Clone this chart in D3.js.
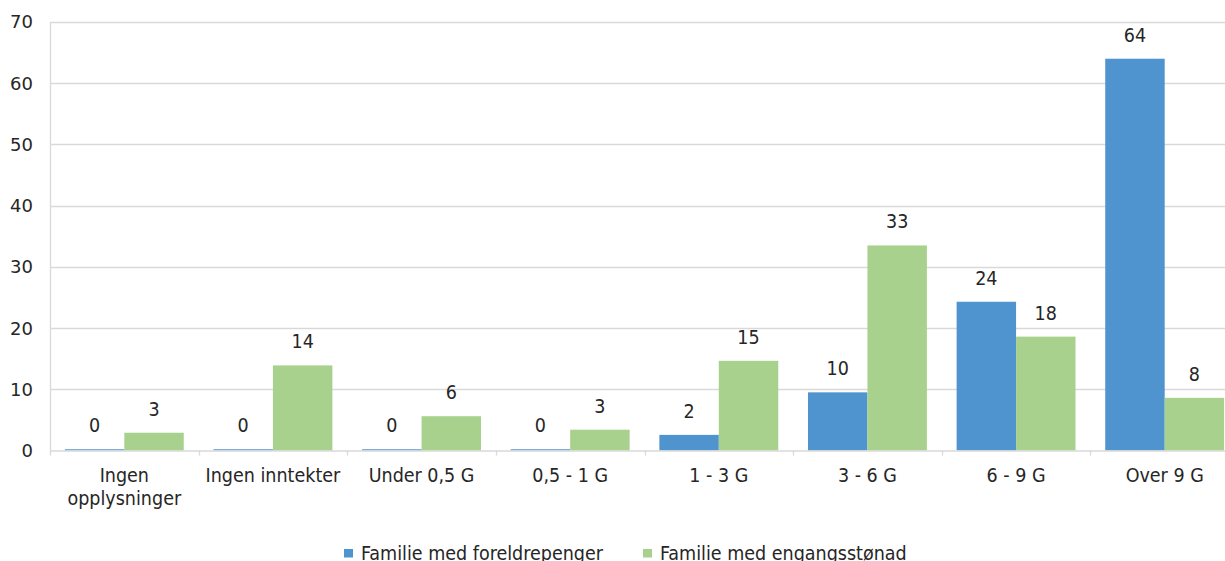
<!DOCTYPE html>
<html>
<head>
<meta charset="utf-8">
<script src="https://cdn.jsdelivr.net/npm/d3@7"></script>
<style>
  body { margin: 0; background: #fff; }
  text { font-family: "DejaVu Sans Condensed", "DejaVu Sans", sans-serif; fill: #262626; }
</style>
</head>
<body>
<div id="chart"></div>
<script>
// categories and series
var categories = ["Ingen opplysninger", "Ingen inntekter", "Under 0,5 G", "0,5 - 1 G",
  "1 - 3 G", "3 - 6 G", "6 - 9 G", "Over 9 G"];
var foreldrepenger = [0.2, 0.2, 0.2, 0.2, 2.55, 9.5, 24.3, 64.0];
var engangsstonad = [2.9, 13.9, 5.6, 3.4, 14.65, 33.5, 18.6, 8.6];
// data labels as printed on the chart
var foreldrepengerLabels = ["0", "0", "0", "0", "2", "10", "24", "64"];
var engangsstonadLabels = ["3", "14", "6", "3", "15", "33", "18", "8"];
var seriesNames = ["Familie med foreldrepenger", "Familie med engangsstønad"];
var yTicks = [0, 10, 20, 30, 40, 50, 60, 70];

var colors = ["#4f93cf", "#a9d18e"];

var W = 1225, H = 561;
var margin = { top: 22, left: 50 },
  plotBottom = 450.5,
  plotRight = 1239;

var svg = d3.select("#chart")
  .append("svg")
  .attr("width", W)
  .attr("height", H);

// scales
var x0 = d3.scaleBand()
  .domain(categories)
  .range([margin.left, plotRight])
  .paddingInner(0.2)
  .paddingOuter(0.1);
var x1 = d3.scaleBand()
  .domain([0, 1])
  .range([0, x0.bandwidth()]);
var y = d3.scaleLinear()
  .domain([0, 70])
  .range([plotBottom, margin.top]);

// gridlines
svg.append("g")
  .selectAll("line")
  .data(yTicks.slice(1))
  .enter()
  .append("line")
  .attr("x1", margin.left)
  .attr("x2", W)
  .attr("y1", function(d) { return Math.round(y(d)) + 0.5; })
  .attr("y2", function(d) { return Math.round(y(d)) + 0.5; })
  .attr("stroke", "#d9d9d9")
  .attr("stroke-width", 1.3);

// left axis line
svg.append("line")
  .attr("x1", margin.left + 0.5)
  .attr("x2", margin.left + 0.5)
  .attr("y1", y(70))
  .attr("y2", plotBottom)
  .attr("stroke", "#d9d9d9")
  .attr("stroke-width", 1.3);

// y tick labels
svg.append("g")
  .selectAll("text")
  .data(yTicks)
  .enter()
  .append("text")
  .attr("x", 33)
  .attr("y", function(d) { return y(d); })
  .attr("dy", "0.36em")
  .attr("text-anchor", "end")
  .style("font-family", "'DejaVu Sans', sans-serif")
  .style("font-size", "18px")
  .text(function(d) { return d; });

// bars
var rows = categories.map(function(c, i) {
  return {
    cat: c,
    vals: [
      { s: 0, v: foreldrepenger[i], lab: foreldrepengerLabels[i] },
      { s: 1, v: engangsstonad[i], lab: engangsstonadLabels[i] }
    ]
  };
});

var groups = svg.append("g")
  .selectAll("g")
  .data(rows)
  .enter()
  .append("g")
  .attr("transform", function(d) { return "translate(" + x0(d.cat) + ",0)"; });

groups.selectAll("rect")
  .data(function(d) { return d.vals; })
  .enter()
  .append("rect")
  .attr("x", function(d) { return x1(d.s); })
  .attr("width", x1.bandwidth())
  .attr("y", function(d) { return y(d.v); })
  .attr("height", function(d) { return plotBottom - y(d.v); })
  .attr("fill", function(d) { return colors[d.s]; });

// data labels
groups.selectAll("text")
  .data(function(d) { return d.vals; })
  .enter()
  .append("text")
  .attr("x", function(d) { return x1(d.s) + x1.bandwidth() / 2; })
  .attr("y", function(d) { return y(d.v) - 17; })
  .attr("text-anchor", "middle")
  .style("font-size", "19.5px")
  .text(function(d) { return d.lab; });

// bottom axis line + ticks
svg.append("line")
  .attr("x1", margin.left)
  .attr("x2", W)
  .attr("y1", plotBottom + 0.5)
  .attr("y2", plotBottom + 0.5)
  .attr("stroke", "#d9d9d9")
  .attr("stroke-width", 1.3);

var bounds = categories.map(function(c) { return x0(c) - x0.step() * x0.paddingInner() / 2; });
svg.append("g")
  .selectAll("line")
  .data(bounds)
  .enter()
  .append("line")
  .attr("x1", function(d) { return Math.round(d) + 0.5; })
  .attr("x2", function(d) { return Math.round(d) + 0.5; })
  .attr("y1", plotBottom)
  .attr("y2", plotBottom + 5)
  .attr("stroke", "#d9d9d9")
  .attr("stroke-width", 1.3);

// category labels
var catLines = { "Ingen opplysninger": ["Ingen", "opplysninger"] };
svg.append("g")
  .selectAll("text")
  .data(categories)
  .enter()
  .append("text")
  .attr("text-anchor", "middle")
  .attr("x", function(d) { return x0(d) + x0.bandwidth() / 2; })
  .attr("y", 482)
  .style("font-size", "19.5px")
  .each(function(d) {
    var lines = catLines[d] || [d];
    var t = d3.select(this);
    lines.forEach(function(l, k) {
      t.append("tspan")
        .attr("x", x0(d) + x0.bandwidth() / 2)
        .attr("dy", k === 0 ? 0 : 23)
        .text(l);
    });
  });

// legend
var legendX = [344, 643];
var legend = svg.append("g")
  .selectAll("g")
  .data(seriesNames)
  .enter()
  .append("g")
  .attr("transform", function(d, i) { return "translate(" + legendX[i] + ",549)"; });
legend.append("rect")
  .attr("x", 0)
  .attr("y", 0)
  .attr("width", 9)
  .attr("height", 8.5)
  .attr("fill", function(d, i) { return colors[i]; });
legend.append("text")
  .attr("x", 17)
  .attr("y", 10.5)
  .style("font-size", "19.5px")
  .text(function(d) { return d; });
</script>
</body>
</html>
